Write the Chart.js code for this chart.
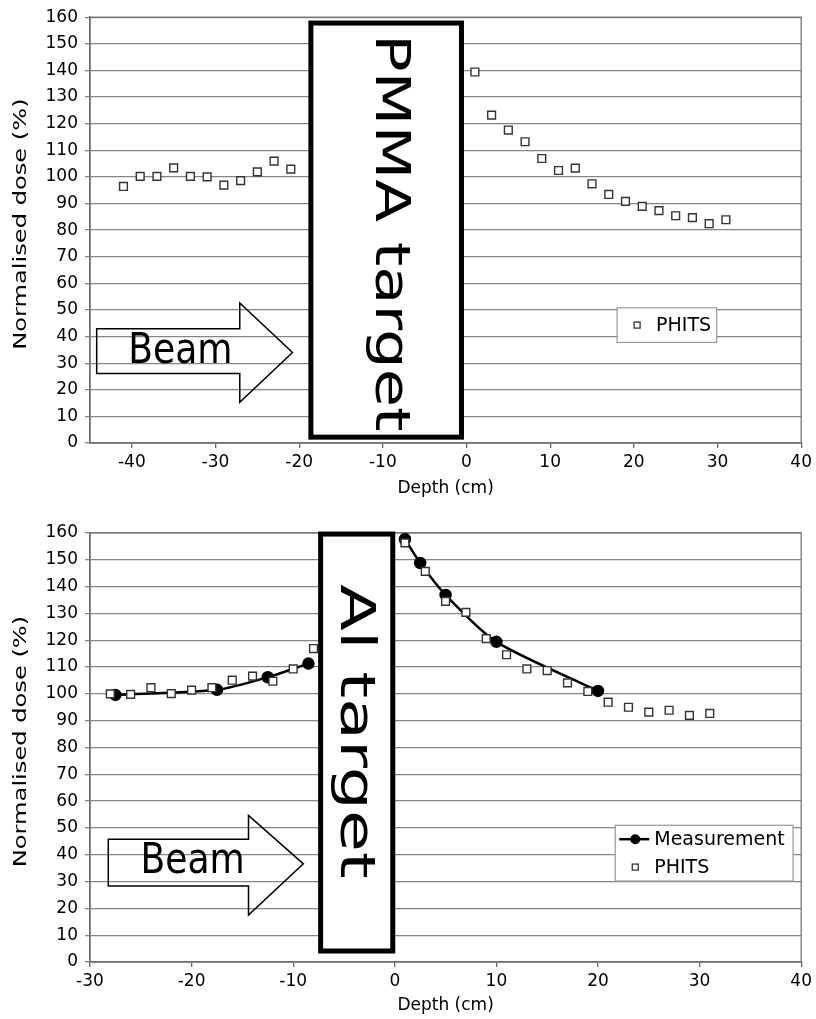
<!DOCTYPE html>
<html>
<head>
<meta charset="utf-8">
<title>Normalised dose vs depth</title>
<script src="https://cdn.jsdelivr.net/npm/chart.js@4.4.0/dist/chart.umd.min.js"></script>
<style>
  body { margin: 0; background: #fff; }
  canvas { display: block; }
</style>
</head>
<body>
<canvas id="pmma-chart" width="816" height="500"></canvas>
<canvas id="al-chart" width="816" height="519"></canvas>
<script>
// PMMA target, PHITS only
const pmmaDepth = [-41, -39, -37, -35, -33, -31, -29, -27, -25, -23, -21,
                   1, 3, 5, 7, 9, 11, 13, 15, 17, 19, 21, 23, 25, 27, 29, 31];
const pmmaPhits = [96.4, 100.2, 100.2, 103.4, 100.2, 100.0, 96.9, 98.6, 101.9, 105.9, 102.9,
                   139.4, 123.2, 117.6, 113.2, 106.9, 102.4, 103.3, 97.4, 93.4, 90.8, 88.9, 87.3, 85.4, 84.7, 82.4, 83.9];

// Al target, PHITS + measurement
const alPhitsDepth = [-28, -26, -24, -22, -20, -18, -16, -14, -12, -10, -8,
                      1, 3, 5, 7, 9, 11, 13, 15, 17, 19, 21, 23, 25, 27, 29, 31];
const alPhits = [100.0, 99.8, 102.3, 100.1, 101.4, 102.3, 105.1, 106.6, 104.7, 109.3, 116.9,
                 156.3, 145.7, 134.5, 130.4, 120.6, 114.6, 109.3, 108.7, 104.1, 100.9, 96.9, 95.0, 93.2, 93.9, 92.0, 92.7];
const alMeasDepth = [-27.5, -17.5, -12.5, -8.5, 1, 2.5, 5, 10, 20];
const alMeas = [99.6, 101.5, 106.2, 111.3, 157.7, 148.8, 136.9, 119.4, 101.1];

const doseMin = 0, doseMax = 160, doseStep = 10;
const depthStep = 10;

const yTitle = 'Normalised dose (%)';
const xTitle = 'Depth (cm)';
const FONT = '"DejaVu Sans", Verdana, sans-serif';

// Function to turn two arrays into x/y points
function toPoints(xs, ys) {
    return xs.map((v, i) => ({ x: v, y: ys[i] }));
}

// Measurement line is broken where it crosses the target
function withGap(xs, ys) {
    const pts = [];
    xs.forEach((v, i) => {
        if (i > 0 && xs[i - 1] < 0 && v > 0) pts.push({ x: (xs[i - 1] + v) / 2, y: null });
        pts.push({ x: v, y: ys[i] });
    });
    return pts;
}

// Draw text rotated and stretched along its length
function stretchedText(ctx, text, x, y, angle, size, stretch) {
    ctx.save();
    ctx.translate(x, y);
    ctx.rotate(angle);
    ctx.scale(stretch, 1);
    ctx.font = size + 'px ' + FONT;
    ctx.fillStyle = '#000';
    ctx.textAlign = 'center';
    ctx.textBaseline = 'middle';
    ctx.fillText(text, 0, 0);
    ctx.restore();
}

const phitsStyle = {
    pointStyle: 'rect',
    pointRadius: 5.5,
    pointBorderWidth: 1.4,
    pointBorderColor: '#333',
    pointBackgroundColor: '#fff',
    showLine: false
};

// Plugin for frame, target box, beam arrow, y title and legend
const annotate = {
    id: 'annotate',
    beforeDatasetsDraw(chart, args, opts) {
        const { ctx, chartArea: a, scales: { x, y } } = chart;
        const px = v => x.getPixelForValue(v);
        const py = v => y.getPixelForValue(v);
        ctx.save();

        // frame round the plot area
        ctx.strokeStyle = '#777';
        ctx.lineWidth = 1.3;
        ctx.strokeRect(a.left, a.top, a.width, a.height);

        // target box
        const t = opts.target;
        ctx.fillStyle = '#fff';
        ctx.fillRect(px(t.x0), py(t.y1), px(t.x1) - px(t.x0), py(t.y0) - py(t.y1));
        ctx.strokeStyle = '#000';
        ctx.lineWidth = 5;
        ctx.lineJoin = 'miter';
        ctx.strokeRect(px(t.x0), py(t.y1), px(t.x1) - px(t.x0), py(t.y0) - py(t.y1));
        stretchedText(ctx, t.label, px(t.tx), py(t.ty), Math.PI / 2, t.size, t.stretch);

        // beam arrow (outline only)
        const b = opts.beam;
        ctx.beginPath();
        ctx.moveTo(px(b.x0), py(b.shaftTop));
        ctx.lineTo(px(b.xHead), py(b.shaftTop));
        ctx.lineTo(px(b.xHead), py(b.headTop));
        ctx.lineTo(px(b.xTip), py(b.yMid));
        ctx.lineTo(px(b.xHead), py(b.headBottom));
        ctx.lineTo(px(b.xHead), py(b.shaftBottom));
        ctx.lineTo(px(b.x0), py(b.shaftBottom));
        ctx.closePath();
        ctx.strokeStyle = '#000';
        ctx.lineWidth = 1.5;
        ctx.stroke();
        ctx.save();
        ctx.translate(px(b.tx), py(b.ty));
        ctx.scale(0.86, 1);
        ctx.font = b.size + 'px ' + FONT;
        ctx.fillStyle = '#000';
        ctx.textAlign = 'center';
        ctx.textBaseline = 'middle';
        ctx.fillText('Beam', 0, 0);
        ctx.restore();

        // y axis title, stretched like the original
        stretchedText(ctx, yTitle, 22, (a.top + a.bottom) / 2 - 6, -Math.PI / 2, 17, 1.42);
        ctx.restore();
    },
    afterDraw(chart, args, opts) {
        const { ctx, scales: { x, y } } = chart;
        const l = opts.legend;
        const left = x.getPixelForValue(l.x0), right = x.getPixelForValue(l.x1);
        const top = y.getPixelForValue(l.y1), bottom = y.getPixelForValue(l.y0);
        ctx.save();
        ctx.fillStyle = '#fff';
        ctx.fillRect(left, top, right - left, bottom - top);
        ctx.strokeStyle = '#999';
        ctx.lineWidth = 1.2;
        ctx.strokeRect(left, top, right - left, bottom - top);
        const rowH = (bottom - top) / l.items.length;
        l.items.forEach((item, i) => {
            const cy = top + rowH * (i + 0.5);
            const mx = left + 20;
            if (item.kind === 'meas') {
                ctx.strokeStyle = '#000';
                ctx.lineWidth = 2.5;
                ctx.beginPath();
                ctx.moveTo(left + 4, cy);
                ctx.lineTo(left + 34, cy);
                ctx.stroke();
                ctx.fillStyle = '#000';
                ctx.beginPath();
                ctx.arc(mx, cy, 5, 0, Math.PI * 2);
                ctx.fill();
            } else {
                ctx.fillStyle = '#fff';
                ctx.strokeStyle = '#333';
                ctx.lineWidth = 1.3;
                ctx.fillRect(mx - 3, cy - 3, 6, 6);
                ctx.strokeRect(mx - 3, cy - 3, 6, 6);
            }
            ctx.fillStyle = '#000';
            ctx.font = '19px ' + FONT;
            ctx.textAlign = 'left';
            ctx.textBaseline = 'middle';
            ctx.fillText(item.label, left + 39, cy + 1);
        });
        ctx.restore();
    }
};

function makeScales(xMin, xMax, xTitlePad) {
    return {
        x: {
            type: 'linear',
            min: xMin,
            max: xMax,
            ticks: { stepSize: depthStep, includeBounds: false, color: '#000', padding: 4, font: { family: FONT, size: 17 } },
            grid: { drawOnChartArea: false, drawTicks: true, tickLength: 5, color: '#666', lineWidth: 1.3 },
            border: { color: '#666', width: 1.5 },
            title: { display: true, text: xTitle, color: '#000', font: { family: FONT, size: 17 }, padding: { top: 0, bottom: xTitlePad } },
            afterFit: s => { s.height = 57; }
        },
        y: {
            min: doseMin,
            max: doseMax,
            ticks: { stepSize: doseStep, color: '#000', padding: 7, font: { family: FONT, size: 17 } },
            grid: { color: '#858585', lineWidth: 1.3, tickLength: 5 },
            border: { color: '#666', width: 1.5 },
            title: { display: false },
            afterFit: s => { s.width = 90; }
        }
    };
}

// Top chart: PMMA target
new Chart(document.getElementById('pmma-chart'), {
    type: 'scatter',
    data: {
        datasets: [
            Object.assign({ label: 'PHITS', data: toPoints(pmmaDepth, pmmaPhits) }, phitsStyle)
        ]
    },
    options: {
        responsive: false,
        animation: false,
        layout: { padding: { top: 14, right: 11, left: 0, bottom: 0 } },
        scales: makeScales(-45, 40, 1),
        plugins: {
            legend: { display: false },
            tooltip: { enabled: false },
            annotate: {
                target: { x0: -18.6, x1: -0.6, y0: 2.2, y1: 157.8, label: 'PMMA target', tx: -9.3, ty: 79, size: 48, stretch: 1.3 },
                beam: { x0: -44.2, xHead: -27.1, xTip: -20.8, shaftTop: 42.9, shaftBottom: 26.1, headTop: 52.6, headBottom: 15.3, yMid: 34, tx: -34.2, ty: 34, size: 42 },
                legend: { x0: 18.0, x1: 29.9, y0: 37.8, y1: 50.8, items: [{ kind: 'phits', label: 'PHITS' }] }
            }
        }
    },
    plugins: [annotate]
});

// Bottom chart: Al target
new Chart(document.getElementById('al-chart'), {
    type: 'scatter',
    data: {
        datasets: [
            Object.assign({ label: 'PHITS', data: toPoints(alPhitsDepth, alPhits) }, phitsStyle),
            {
                label: 'Measurement',
                data: withGap(alMeasDepth, alMeas),
                showLine: true,
                spanGaps: false,
                tension: 0.25,
                borderColor: '#000',
                borderWidth: 2.5,
                pointStyle: 'circle',
                pointRadius: 5,
                pointBackgroundColor: '#000',
                pointBorderColor: '#000'
            }
        ]
    },
    options: {
        responsive: false,
        animation: false,
        layout: { padding: { top: 33, right: 10, left: 0, bottom: 0 } },
        scales: makeScales(-30, 40, 3),
        plugins: {
            legend: { display: false },
            tooltip: { enabled: false },
            annotate: {
                target: { x0: -7.3, x1: -0.2, y0: 4.1, y1: 159.6, label: 'Al target', tx: -4.1, ty: 86, size: 48, stretch: 1.42 },
                beam: { x0: -28.2, xHead: -14.4, xTip: -9.0, shaftTop: 45.8, shaftBottom: 28.3, headTop: 54.7, headBottom: 17.5, yMid: 36.6, tx: -19.9, ty: 37.2, size: 42 },
                legend: { x0: 21.7, x1: 39.2, y0: 30.2, y1: 51.0, items: [{ kind: 'meas', label: 'Measurement' }, { kind: 'phits', label: 'PHITS' }] }
            }
        }
    },
    plugins: [annotate]
});
</script>
</body>
</html>
